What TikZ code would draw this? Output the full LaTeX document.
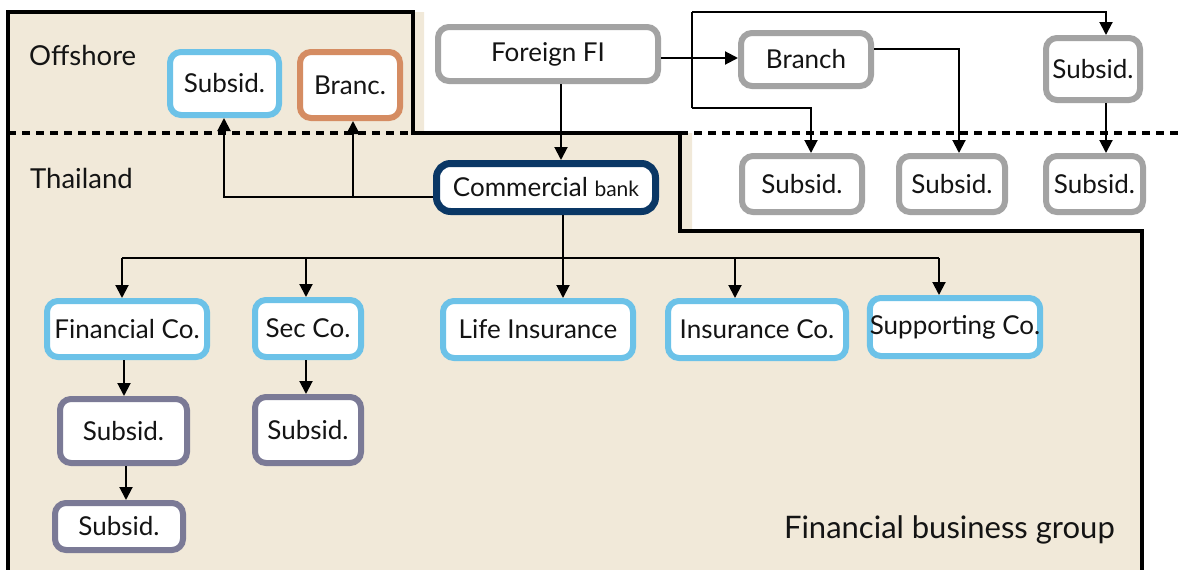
\documentclass[tikz,border=0pt]{standalone}
\usepackage{fontspec}
\setmainfont{Lato}
\usetikzlibrary{arrows.meta}
\definecolor{bgbeige}{RGB}{241,233,217}
\definecolor{cblue}{RGB}{108,194,232}
\definecolor{corange}{RGB}{213,140,98}
\definecolor{cgray}{RGB}{163,163,163}
\definecolor{cnavy}{RGB}{10,55,101}
\definecolor{cslate}{RGB}{123,122,150}
\definecolor{ctext}{RGB}{20,20,20}
\tikzset{
  box/.style={draw, rounded corners=11pt, fill=white, line width=6pt, inner sep=0pt,
    text=ctext, font=\fontsize{26}{30}\selectfont},
  bluebox/.style={box, draw=cblue},
  orangebox/.style={box, draw=corange},
  graybox/.style={box, draw=cgray},
  slatebox/.style={box, draw=cslate},
  navybox/.style={box, draw=cnavy, line width=7pt, rounded corners=14pt},
  conn/.style={line width=2pt, draw=black},
  arr/.style={conn, -{Triangle[length=13pt,width=13pt]}},
  region/.style={font=\fontsize{27.5}{32}\selectfont, text=ctext, inner sep=0pt}
}
\begin{document}
\begin{tikzpicture}[x=1pt,y=-1pt]
\useasboundingbox (0,0) rectangle (1184,570);
\fill[white] (0,0) rectangle (1184,570);
% beige area
\fill[bgbeige] (9,12) -- (424,12) -- (424,133) -- (692,133) -- (692,231) -- (1142,231) -- (1142,570) -- (9,570) -- cycle;
% outline
\draw[line width=3.5pt] (8,570) -- (8,12) -- (413,12) -- (413,133) -- (680,133) -- (680,231) -- (1142,231) -- (1142,570);
% dashed border
\draw[line width=3.5pt, dash pattern=on 8pt off 6pt] (8,133) -- (1184,133);

% labels
\node[region, anchor=west] (off) at (29,55) {Offshore};
\node[region, anchor=west] (thai) at (30,178) {Thailand};
\node[region, anchor=east, font=\fontsize{31}{34}\selectfont] (fbg) at (1115,530) {Financial business group};

% nodes
\node[bluebox, minimum width=109pt, minimum height=63pt] (offsub) at (224.5,83.5) {Subsid.};
\node[orangebox, minimum width=100pt, minimum height=66pt] (branc) at (350,85) {Branc.};
\node[graybox, minimum width=220pt, minimum height=54pt] (ffi) at (548,54) {Foreign FI};
\node[graybox, minimum width=130pt, minimum height=53pt] (branch) at (806,59.5) {Branch};
\node[graybox, minimum width=94pt, minimum height=62pt] (subtr) at (1093,69) {Subsid.};
\node[graybox, minimum width=120pt, minimum height=56pt] (s1) at (802,184) {Subsid.};
\node[graybox, minimum width=106pt, minimum height=56pt] (s2) at (952,184) {Subsid.};
\node[graybox, minimum width=97pt, minimum height=56pt] (s3) at (1094.5,184) {Subsid.};
\node[navybox, minimum width=219pt, minimum height=48pt] (bank) at (546,187.5) {Commercial {\fontsize{21}{24}\selectfont bank}};
\node[bluebox, minimum width=160pt, minimum height=56pt] (fin) at (127,329) {Financial Co.};
\node[bluebox, minimum width=106pt, minimum height=57pt] (sec) at (308,328.5) {Sec Co.};
\node[bluebox, minimum width=190pt, minimum height=57pt] (life) at (538,329.5) {Life Insurance};
\node[bluebox, minimum width=178pt, minimum height=57pt] (ins) at (757,329.5) {Insurance Co.};
\node[bluebox, minimum width=164pt, minimum height=58pt] (sup) at (955,327) {Supporting Co.};
\node[slatebox, minimum width=127pt, minimum height=64pt] (fs1) at (123.5,431) {Subsid.};
\node[slatebox, minimum width=106pt, minimum height=66pt] (ss1) at (308,430) {Subsid.};
\node[slatebox, minimum width=128pt, minimum height=47pt] (fs2) at (119,526.5) {Subsid.};

% helper coordinates
\coordinate (xffi) at (561,0);
\coordinate (jfi) at (692,58);
\coordinate (jtop) at (692,12);
\coordinate (jbot) at (692,108);
\coordinate (xs1) at (811,0);
\coordinate (xs2) at (959,0);
\coordinate (xtr) at (1106,0);
\coordinate (ybr) at (0,49);
\coordinate (xoff) at (224,0);
\coordinate (xbranc) at (353,0);
\coordinate (ybank) at (0,197);
\coordinate (xbank) at (563,0);
\coordinate (bus) at (0,258);
\coordinate (xfin) at (122,0);
\coordinate (xsec) at (306,0);
\coordinate (xins) at (735,0);
\coordinate (xsup) at (939,0);
\coordinate (xfs) at (124,0);
\coordinate (xfs2) at (126,0);

% connectors
\draw[arr] (ffi.south -| xffi) -- (bank.north -| xffi);
\draw[arr] (ffi.east |- jfi) -- (branch.west |- jfi);
\draw[conn] (jbot) -- (jtop);
\draw[arr] (jtop) -| (subtr.north -| xtr);
\draw[arr] (jbot) -| (s1.north -| xs1);
\draw[arr] (branch.east |- ybr) -| (s2.north -| xs2);
\draw[arr] (subtr.south -| xtr) -- (s3.north -| xtr);
\draw[arr] (bank.west |- ybank) -| (offsub.south -| xoff);
\draw[arr] (xbranc |- ybank) -- (branc.south -| xbranc);
\draw[arr] (bank.south -| xbank) -- (life.north -| xbank);
\draw[conn] (xfin |- bus) -- (xsup |- bus);
\draw[arr] (xfin |- bus) -- (fin.north -| xfin);
\draw[arr] (xsec |- bus) -- (sec.north -| xsec);
\draw[arr] (xins |- bus) -- (ins.north -| xins);
\draw[arr] (xsup |- bus) -- (sup.north -| xsup);
\draw[arr] (fin.south -| xfs) -- (fs1.north -| xfs);
\draw[arr] (fs1.south -| xfs2) -- (fs2.north -| xfs2);
\draw[arr] (sec.south -| xsec) -- (ss1.north -| xsec);
\end{tikzpicture}
\end{document}
